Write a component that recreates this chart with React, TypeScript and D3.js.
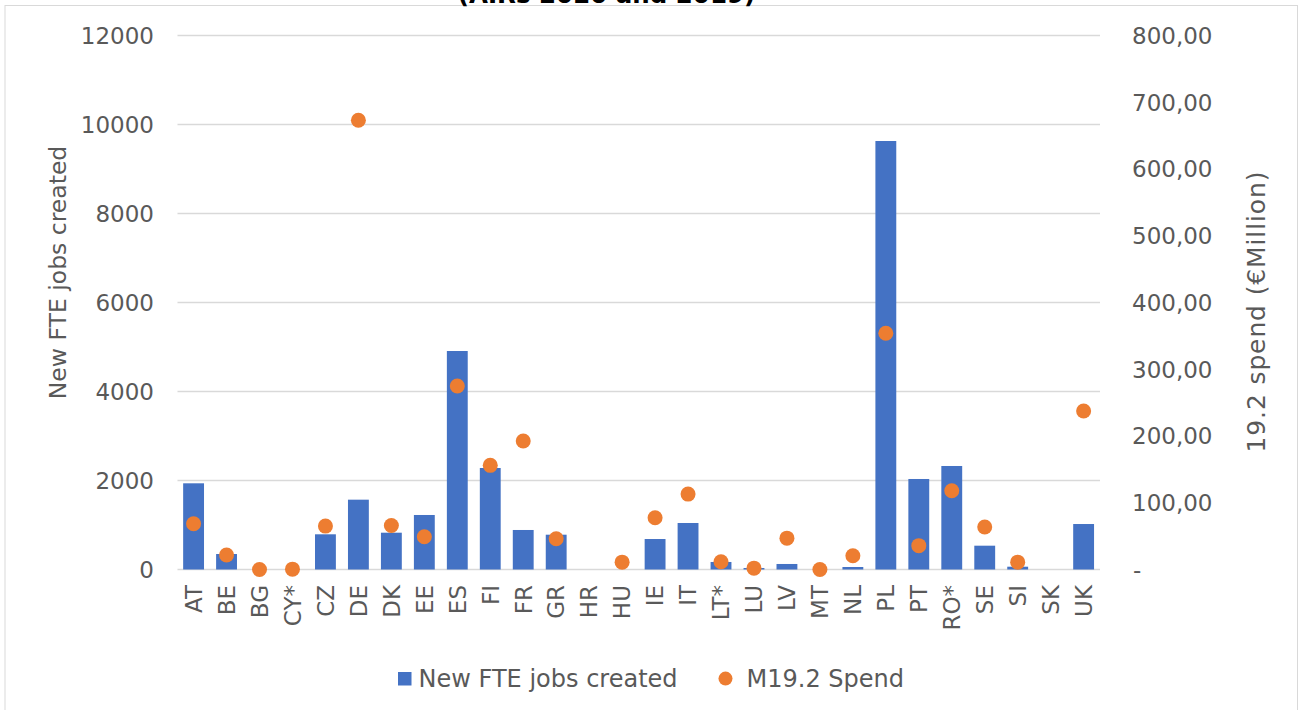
import React from "react";
import * as d3 from "d3";

const categories = ["AT","BE","BG","CY*","CZ","DE","DK","EE","ES","FI","FR","GR","HR","HU","IE","IT","LT*","LU","LV","MT","NL","PL","PT","RO*","SE","SI","SK","UK"];
const fteJobs = [1937,348,0,0,791,1569,827,1225,4910,2281,888,782,0,0,685,1045,169,34,124,0,56,9629,2034,2326,535,63,0,1022];
const spend: (number | null)[] = [68.6,21.7,0,0.5,65,673,66,49,275,156,192.5,46,null,11,77.6,113,11.7,2,47,0,20.7,354,35.7,118,63.7,11,null,237.5];
const leftTicks = [0,2000,4000,6000,8000,10000,12000];
const rightTicks = [0,100,200,300,400,500,600,700,800];

const W = 1301, H = 710;
const FONT = "'DejaVu Sans', Verdana, sans-serif";
const TXT = "#595959";

export default function App() {
  const x0 = 177.1, x1 = 1100.1;
  const yL = d3.scaleLinear().domain([0, 12000]).range([569.5, 35.5]);
  const yR = d3.scaleLinear().domain([0, 800]).range([569.5, 35.5]);
  const xB = d3.scaleBand<string>().domain(categories).range([x0, x1]).paddingInner(0).paddingOuter(0);
  const fmtR = (v: number) => v === 0 ? "-" : d3.format(".2f")(v).replace(".", ",");
  const band = xB.bandwidth();
  const bw = band / 1.58;
  const cx = (c: string) => (xB(c) as number) + band / 2;

  return (
    <svg width={W} height={H} style={{ position: "absolute", left: 0, top: 0, display: "block", background: "#fff" }} fontFamily={FONT}>
      <rect x={5} y={5.5} width={1292.5} height={720} fill="#fff" stroke="#d9d9d9" strokeWidth={1} />
      <text x={606.5} y={3} textAnchor="middle" fontSize={24.5} fontWeight="bold" fill="#000">(AIRs 2020 and 2019)</text>
      {leftTicks.map(t => (
        <g key={"g" + t}>
          <line x1={177.5} x2={1100} y1={yL(t)} y2={yL(t)} stroke="#d9d9d9" strokeWidth={1.3} />
          <text x={154} y={yL(t)} dy="0.36em" textAnchor="end" fontSize={23} fill={TXT}>{t}</text>
        </g>
      ))}
      {rightTicks.map(t => (
        <text key={"r" + t} x={t === 0 ? 1133 : 1132} y={yR(t)} dy="0.36em" textAnchor="start" fontSize={23} fill={TXT}>{fmtR(t)}</text>
      ))}
      {categories.map((c, i) => (
        <rect key={"b" + c} x={cx(c) - bw / 2} y={yL(fteJobs[i])} width={bw} height={Math.max(0, yL(0) - yL(fteJobs[i]))} fill="#4472C4" />
      ))}
      {categories.map((c, i) => spend[i] === null ? null : (
        <circle key={"d" + c} cx={cx(c)} cy={yR(spend[i] as number)} r={7.5} fill="#ED7D31" />
      ))}
      {categories.map(c => (
        <text key={"x" + c} transform={`translate(${cx(c)},585) rotate(-90)`} dy="0.36em" textAnchor="end" fontSize={23} fill={TXT}>{c}</text>
      ))}
      <text transform={`translate(66,272.5) rotate(-90)`} textAnchor="middle" fontSize={23.5} fill={TXT}>New FTE jobs created</text>
      <text transform={`translate(1265,312) rotate(-90)`} textAnchor="middle" fontSize={25} textLength={281} lengthAdjust="spacing" fill={TXT}>19.2 spend (€Million)</text>
      <rect x={398} y={672} width={13.5} height={13.5} fill="#4472C4" />
      <text x={418.6} y={678.6} dy="0.36em" fontSize={24} fill={TXT}>New FTE jobs created</text>
      <circle cx={725.5} cy={678.6} r={7} fill="#ED7D31" />
      <text x={746.5} y={678.6} dy="0.36em" fontSize={24} fill={TXT}>M19.2 Spend</text>
    </svg>
  );
}
